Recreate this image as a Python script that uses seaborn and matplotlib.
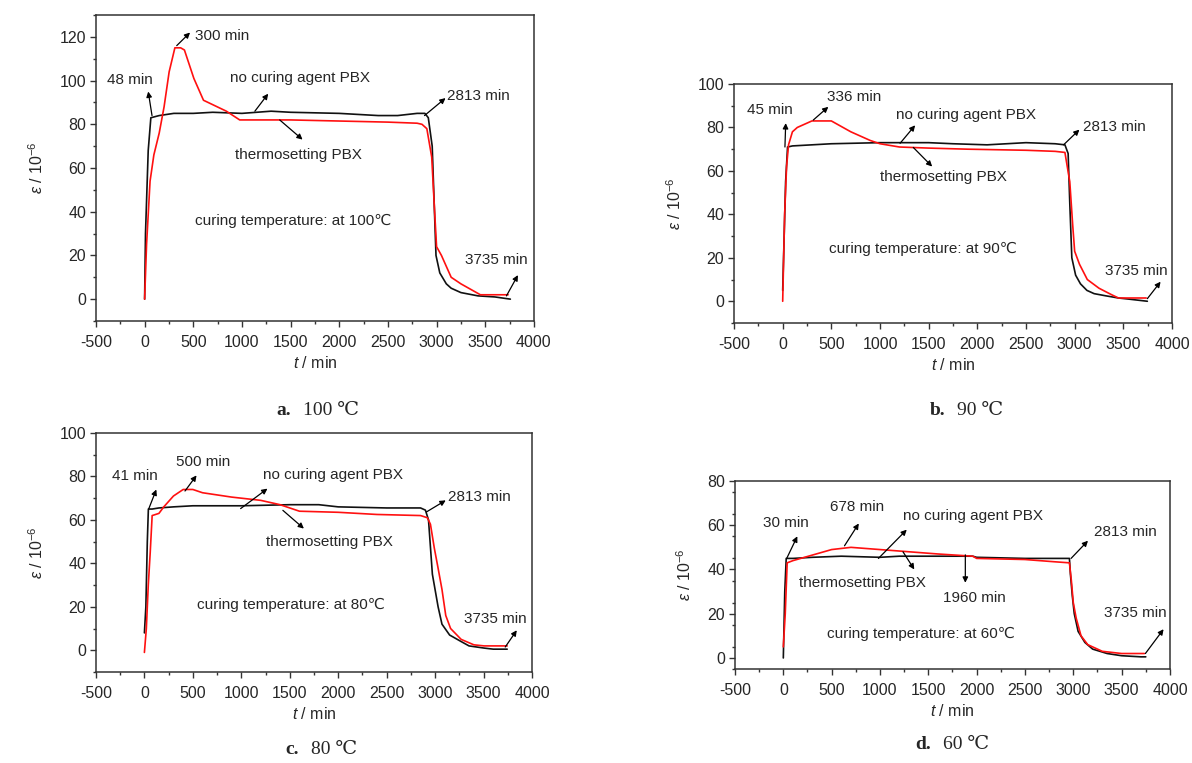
import numpy as np
import pandas as pd
import matplotlib
matplotlib.use("Agg")
import matplotlib.pyplot as plt
import seaborn as sns

# ---- data (t in min, strain in 1e-6) ----
# a. 100 C
t_a_black = [0, 9, 20, 37, 64, 150, 300, 500, 700, 1000, 1300, 1500, 2000, 2400, 2600, 2800, 2880, 2915, 2955, 2994, 3033, 3100, 3150, 3250, 3425, 3600, 3758]
e_a_black = [0, 30, 45, 68, 83, 84, 85, 85, 85.5, 85, 86, 85.5, 85, 84, 84, 85, 85, 83, 70, 20, 12, 7, 5, 3, 1.5, 1, 0]
t_a_red = [0, 20, 56, 95, 150, 200, 252, 311, 370, 409, 506, 605, 840, 977, 1500, 2000, 2500, 2800, 2850, 2900, 2950, 2980, 3000, 3050, 3150, 3250, 3330, 3450, 3600, 3735]
e_a_red = [0, 25, 54, 66, 76, 88, 104, 115, 115, 114, 101, 91, 86, 82, 82, 81.5, 81, 80.5, 80, 78, 65, 40, 24, 20, 10, 7, 5, 2, 2, 2]

# b. 90 C
t_b_black = [0, 15, 30, 50, 100, 300, 500, 1000, 1500, 1750, 2100, 2500, 2800, 2900, 2933, 2950, 2971, 3010, 3060, 3126, 3200, 3320, 3450, 3553, 3747]
e_b_black = [5, 30, 55, 71, 71.5, 72, 72.5, 73, 73, 72.5, 72, 73, 72.5, 72, 68, 45, 20, 12, 8, 5, 3.5, 2.5, 1.5, 1, 0]
t_b_red = [0, 20, 40, 60, 100, 150, 300, 500, 700, 900, 1000, 1200, 1500, 1900, 2500, 2800, 2900, 2950, 2980, 3000, 3050, 3130, 3250, 3380, 3450, 3600, 3735]
e_b_red = [0, 40, 62, 72, 78, 80, 83, 83, 78, 74, 72.5, 71, 70.5, 70, 69.5, 69, 68.5, 55, 35, 23, 17, 10, 6, 3, 1.5, 1.5, 1.5]

# c. 80 C
t_c_black = [0, 15, 30, 41, 80, 150, 300, 500, 1000, 1500, 1800, 2000, 2500, 2850, 2900, 2932, 2972, 3031, 3071, 3150, 3269, 3350, 3506, 3600, 3744]
e_c_black = [8, 20, 50, 65, 65, 65.5, 66, 66.5, 66.5, 67, 67, 66, 65.5, 65.5, 64.5, 60, 35, 20, 12, 7, 4, 2, 1, 0.5, 0.5]
t_c_red = [0, 20, 40, 60, 80, 150, 200, 300, 400, 500, 600, 900, 1200, 1400, 1600, 2000, 2400, 2850, 2920, 2952, 2992, 3030, 3071, 3110, 3160, 3269, 3400, 3506, 3744]
e_c_red = [-1, 10, 30, 45, 62, 63, 66, 71, 74, 74, 72.5, 70.5, 69, 67, 64, 63.5, 62.5, 62, 61, 58, 47, 38, 28, 16, 10, 5, 2.5, 2, 2]

# d. 60 C
t_d_black = [0, 15, 30, 100, 300, 600, 1000, 1200, 1500, 1960, 2000, 2500, 2960, 2970, 2990, 3010, 3050, 3120, 3200, 3350, 3500, 3700, 3750]
e_d_black = [0, 30, 45, 45, 45.5, 46, 45.5, 46, 46, 46, 45.5, 45, 45, 38, 28, 20, 12, 7, 4, 2, 1, 0.5, 0.5]
t_d_red = [0, 20, 40, 100, 300, 500, 700, 1000, 1300, 1600, 1960, 2000, 2500, 2800, 2960, 2980, 3000, 3030, 3080, 3150, 3300, 3500, 3735]
e_d_red = [5, 20, 43, 44, 46.5, 49, 50, 49, 48, 47, 46, 45, 44.5, 43.5, 43, 35, 25, 18, 10, 6, 3, 2, 2]

captions = [("a.", "100 ℃"), ("b.", "90 ℃"), ("c.", "80 ℃"), ("d.", "60 ℃")]
cure_texts = ["curing temperature: at 100℃", "curing temperature: at 90℃",
              "curing temperature: at 80℃", "curing temperature: at 60℃"]
y_limits = [(-10, 130), (-10, 100), (-10, 100), (-5, 80)]
y_ticks = [np.arange(0, 121, 20), np.arange(0, 101, 20), np.arange(0, 101, 20), np.arange(0, 81, 20)]

# annotation: (label, label x, label y, arrow tail x, tail y, arrow head x, head y)
notes_a = [("48 min", -150, 100.5, 76, 84, 37, 95),
           ("300 min", 800, 120.5, 330, 116, 467, 122),
           ("no curing agent PBX", 1600, 101, 1133, 86, 1270, 94),
           ("thermosetting PBX", 1585, 66, 1388, 82, 1623, 73),
           ("2813 min", 3433, 93, 2876, 84, 3092, 92),
           ("3735 min", 3609, 18, 3718, 1.5, 3836, 11)]
notes_b = [("45 min", -132, 88, 23, 71, 31, 82),
           ("336 min", 729, 94, 314, 83.4, 469, 89.5),
           ("no curing agent PBX", 1885, 85.7, 1206, 72.7, 1361, 81),
           ("thermosetting PBX", 1652, 57, 1342, 70.8, 1536, 62),
           ("2813 min", 3406, 80, 2886, 72, 3049, 79),
           ("3735 min", 3630, 14, 3747, 1.2, 3883, 9)]
notes_c = [("41 min", -103, 80, 44, 65, 123, 74),
           ("500 min", 605, 86.7, 419, 73.3, 538, 80.5),
           ("no curing agent PBX", 1943, 80.8, 993, 65.2, 1270, 74.4),
           ("thermosetting PBX", 1911, 50, 1429, 64.4, 1646, 56),
           ("2813 min", 3459, 70.5, 2912, 63.7, 3110, 69),
           ("3735 min", 3625, 14.3, 3724, 1.5, 3843, 9.2)]
notes_d = [("30 min", 27, 60.8, 35, 45, 145, 55),
           ("678 min", 762, 68.3, 633, 50.7, 781, 60.8),
           ("no curing agent PBX", 1961, 64, 984, 45, 1277, 58),
           ("thermosetting PBX", 820, 34, 1238, 48, 1355, 40),
           ("1960 min", 1980, 27, 1883, 46.6, 1883, 34),
           ("2813 min", 3543, 57, 2977, 45, 3152, 53),
           ("3735 min", 3641, 20.5, 3746, 2, 3934, 13)]

sns.set_style("ticks")
sans = ["Liberation Sans Narrow", "Liberation Sans", "DejaVu Sans"]
serif = ["Liberation Serif", "DejaVu Serif"]
plt.rcParams["font.family"] = sans
plt.rcParams["axes.unicode_minus"] = False
plt.rcParams["mathtext.fontset"] = "custom"
plt.rcParams["mathtext.it"] = "Liberation Sans:italic"
plt.rcParams["mathtext.rm"] = "Liberation Sans"

fig = plt.figure(figsize=(11.92, 7.63), dpi=100)
boxes = [(0.0805, 0.5793, 0.3674, 0.4010),
         (0.6158, 0.5767, 0.3674, 0.3132),
         (0.0805, 0.1193, 0.3658, 0.3132),
         (0.6166, 0.1232, 0.3649, 0.2464)]
# caption anchor: x where the bold letter ends, y centre
cap_pos = [(0.244, 0.4626), (0.793, 0.4626), (0.251, 0.018), (0.781, 0.024)]

curves = [(t_a_black, e_a_black, t_a_red, e_a_red),
          (t_b_black, e_b_black, t_b_red, e_b_red),
          (t_c_black, e_c_black, t_c_red, e_c_red),
          (t_d_black, e_d_black, t_d_red, e_d_red)]
notes = [notes_a, notes_b, notes_c, notes_d]
cure_pos = [(1525, 36), (1439, 24), (1508, 20.7), (1426, 10.8)]

for i in range(4):
    ax = fig.add_axes(boxes[i])
    tb, eb, tr, er = curves[i]
    df = pd.concat([
        pd.DataFrame({"t": tb, "eps": eb, "sample": "no curing agent PBX"}),
        pd.DataFrame({"t": tr, "eps": er, "sample": "thermosetting PBX"}),
    ])
    sns.lineplot(data=df, x="t", y="eps", hue="sample", estimator=None, sort=False,
                 palette={"no curing agent PBX": "#111111", "thermosetting PBX": "#ff1010"},
                 linewidth=1.2, legend=False, ax=ax)
    ax.set_xlim(-500, 4000)
    ax.set_ylim(*y_limits[i])
    ax.set_xticks(np.arange(-500, 4001, 500))
    ax.set_xticks(np.arange(-500, 4001, 250), minor=True)
    ax.set_yticks(y_ticks[i])
    ax.set_yticks(np.arange(y_limits[i][0], y_limits[i][1] + 1, 10), minor=True)
    ax.tick_params(which="major", direction="out", length=4, width=1, labelsize=11.5,
                   color="#333333", pad=3)
    ax.tick_params(axis="x", which="major", pad=6)
    ax.tick_params(which="minor", direction="out", length=2.5, width=1, color="#333333")
    for s in ax.spines.values():
        s.set_visible(True)
        s.set_color("#333333")
        s.set_linewidth(1.1)
    ax.set_xlabel(r"$t$ / min", fontsize=11.5, labelpad=4)
    ax.set_ylabel(r"$\varepsilon$ / 10$^{-6}$", fontsize=11.5, labelpad=10)

    for lab, lx, ly, tx, ty, hx, hy in notes[i]:
        ax.annotate("", xy=(hx, hy), xytext=(tx, ty),
                    arrowprops=dict(arrowstyle="-|>", color="black", lw=0.9,
                                    mutation_scale=8, shrinkA=0, shrinkB=0))
        ax.text(lx, ly, lab, ha="center", va="center", fontsize=11)
    cx, cy = cure_pos[i]
    ax.text(cx, cy, cure_texts[i], ha="center", va="center", fontsize=11)

    letter, temp = captions[i]
    fx, fy = cap_pos[i]
    fig.text(fx, fy, letter, ha="right", va="center", fontsize=14, fontweight="bold", family=serif)
    fig.text(fx + 0.010, fy, temp, ha="left", va="center", fontsize=14, family=serif)

fig.savefig("out.png", dpi=100, facecolor="white")
